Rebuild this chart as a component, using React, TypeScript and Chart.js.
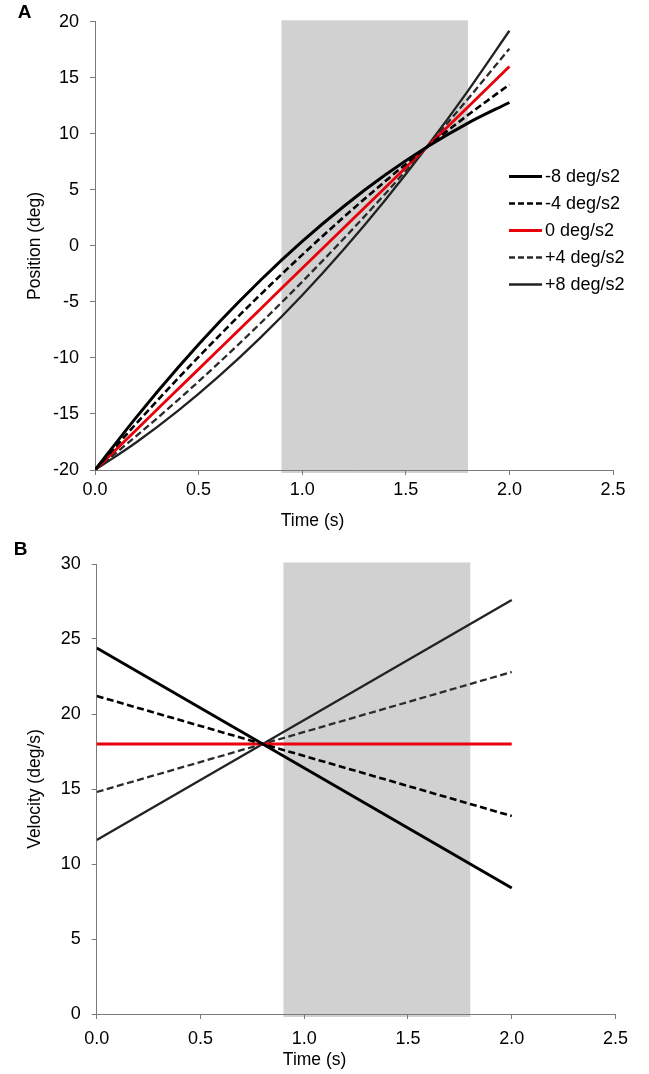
import React, { useEffect, useRef } from "react";
import { Chart, registerables } from "chart.js";

Chart.register(...registerables);

// ---------- data ----------
const timeA = [0, 0.2, 0.4, 0.6, 0.8, 1.0, 1.2, 1.4, 1.6, 1.8, 2.0];
const posM8 = [-20, -15.28, -10.88, -6.8, -3.04, 0.4, 3.52, 6.32, 8.8, 10.96, 12.8];
const posM4 = [-20, -15.84, -11.84, -8.0, -4.32, -0.8, 2.56, 5.76, 8.8, 11.68, 14.4];
const pos0 = [-20, -16.4, -12.8, -9.2, -5.6, -2.0, 1.6, 5.2, 8.8, 12.4, 16.0];
const posP4 = [-20, -16.96, -13.76, -10.4, -6.88, -3.2, 0.64, 4.64, 8.8, 13.12, 17.6];
const posP8 = [-20, -17.52, -14.72, -11.6, -8.16, -4.4, -0.32, 4.08, 8.8, 13.84, 19.2];

const timeB = [0, 2.0];
const velM8 = [24.4, 8.4];
const velM4 = [21.2, 13.2];
const vel0 = [18, 18];
const velP4 = [14.8, 22.8];
const velP8 = [11.6, 27.6];

const seriesLabels = ["-8 deg/s2", "-4 deg/s2", "0 deg/s2", "+4 deg/s2", "+8 deg/s2"];
const shadedRange = [0.9, 1.8];
const xTicks = [0, 0.5, 1.0, 1.5, 2.0, 2.5];

// ---------- styles ----------
const FONT = "'Liberation Sans', Arial, Helvetica, sans-serif";
const seriesStyles = [
  { color: "#000000", width: 3.0, dash: [] as number[] },
  { color: "#000000", width: 2.6, dash: [7, 3.5] },
  { color: "#e8000b", width: 2.8, dash: [] as number[] },
  { color: "#2b2b2b", width: 2.3, dash: [7, 3.5] },
  { color: "#222222", width: 2.3, dash: [] as number[] },
];

type PanelProps = {
  top: number;
  height: number;
  times: number[];
  series: number[][];
  yMin: number;
  yMax: number;
  yTitle: string;
  letter: string;
  yAxisWidth: number;
  xAxisHeight: number;
  padTop: number;
  padRight: number;
  xTickPad: number;
  smooth: boolean;
  legend: boolean;
  letterPos: [number, number];
  yTitleX: number;
  xTitleY: number;
};

function Panel(p: PanelProps) {
  const ref = useRef<HTMLCanvasElement | null>(null);
  useEffect(() => {
    if (!ref.current) return;
    const datasets = p.series.map((vals, i) => ({
      label: seriesLabels[i],
      data: vals.map((v, j) => ({ x: p.times[j], y: v })),
      borderColor: seriesStyles[i].color,
      borderWidth: seriesStyles[i].width,
      borderDash: seriesStyles[i].dash,
      pointRadius: 0,
      fill: false,
      cubicInterpolationMode: p.smooth ? ("monotone" as const) : ("default" as const),
      tension: 0,
    }));
    const decor = {
      id: "decor",
      beforeDraw(chart: any) {
        const { ctx, chartArea, scales } = chart;
        const x0 = scales.x.getPixelForValue(shadedRange[0]);
        const x1 = scales.x.getPixelForValue(shadedRange[1]);
        ctx.save();
        ctx.fillStyle = "#d1d1d1";
        ctx.fillRect(x0, chartArea.top - 1.5, x1 - x0, chartArea.bottom - chartArea.top + 4.5);
        ctx.restore();
      },
      afterDraw(chart: any) {
        const { ctx, chartArea } = chart;
        ctx.save();
        ctx.fillStyle = "#000";
        // panel letter
        ctx.font = `bold 19px ${FONT}`;
        ctx.textAlign = "center";
        ctx.textBaseline = "middle";
        ctx.fillText(p.letter, p.letterPos[0], p.letterPos[1]);
        // x title
        ctx.font = `17.5px ${FONT}`;
        ctx.fillText("Time (s)", chartArea.left + 0.42 * (chartArea.right - chartArea.left), p.xTitleY);
        // y title
        ctx.save();
        ctx.translate(p.yTitleX, (chartArea.top + chartArea.bottom) / 2);
        ctx.rotate(-Math.PI / 2);
        ctx.fillText(p.yTitle, 0, 0);
        ctx.restore();
        // legend
        if (p.legend) {
          ctx.font = `18px ${FONT}`;
          ctx.textAlign = "left";
          ctx.textBaseline = "middle";
          seriesLabels.forEach((lab, i) => {
            const y = 176.5 + i * 27;
            const st = seriesStyles[i];
            ctx.save();
            ctx.strokeStyle = st.color;
            ctx.lineWidth = st.width;
            ctx.setLineDash(st.dash.length ? [6, 3] : []);
            ctx.beginPath();
            ctx.moveTo(509, y);
            ctx.lineTo(542, y);
            ctx.stroke();
            ctx.restore();
            ctx.fillStyle = "#000";
            ctx.fillText(lab, 545, y + 1);
          });
        }
        ctx.restore();
      },
    };
    const chart = new Chart(ref.current, {
      type: "line",
      data: { datasets },
      options: {
        responsive: false,
        animation: false,
        devicePixelRatio: 1,
        layout: { padding: { top: p.padTop, right: p.padRight, left: 0, bottom: 0 } },
        plugins: { legend: { display: false }, tooltip: { enabled: false } },
        scales: {
          x: {
            type: "linear",
            min: 0,
            max: 2.5,
            afterBuildTicks: (s: any) => {
              s.ticks = xTicks.map((v) => ({ value: v }));
            },
            afterFit: (s: any) => {
              s.height = p.xAxisHeight;
            },
            ticks: {
              font: { family: FONT, size: 18 },
              color: "#000",
              padding: p.xTickPad,
              maxRotation: 0,
              callback: (v: any) => Number(v).toFixed(1),
            },
            grid: { drawOnChartArea: false, tickLength: 5, color: "#7a7a7a", lineWidth: 1 },
            border: { color: "#7a7a7a", width: 1 },
          },
          y: {
            type: "linear",
            min: p.yMin,
            max: p.yMax,
            afterFit: (s: any) => {
              s.width = p.yAxisWidth;
            },
            ticks: {
              stepSize: 5,
              font: { family: FONT, size: 18 },
              color: "#000",
              padding: 11,
            },
            grid: { drawOnChartArea: false, tickLength: 5, color: "#7a7a7a", lineWidth: 1 },
            border: { color: "#7a7a7a", width: 1 },
          },
        },
      },
      plugins: [decor],
    } as any);
    return () => chart.destroy();
  }, []);
  return (
    <canvas
      ref={ref}
      width={649}
      height={p.height}
      style={{ position: "absolute", left: 0, top: p.top, width: 649, height: p.height }}
    />
  );
}

export default function App() {
  return (
    <div style={{ position: "absolute", left: 0, top: 0, width: 649, height: 1074, background: "#fff" }}>
      <Panel
        top={0}
        height={540}
        times={timeA}
        series={[posM8, posM4, pos0, posP4, posP8]}
        yMin={-20}
        yMax={20}
        yTitle="Position (deg)"
        letter="A"
        yAxisWidth={95}
        xAxisHeight={70}
        padTop={19.5}
        padRight={36}
        xTickPad={4}
        smooth={true}
        legend={true}
        letterPos={[24.5, 13]}
        yTitleX={35}
        xTitleY={521}
      />
      <Panel
        top={540}
        height={534}
        times={timeB}
        series={[velM8, velM4, vel0, velP4, velP8]}
        yMin={0}
        yMax={30}
        yTitle="Velocity (deg/s)"
        letter="B"
        yAxisWidth={96.7}
        xAxisHeight={60}
        padTop={24}
        padRight={33.5}
        xTickPad={9}
        smooth={false}
        legend={false}
        letterPos={[20.5, 10]}
        yTitleX={35}
        xTitleY={520}
      />
    </div>
  );
}
